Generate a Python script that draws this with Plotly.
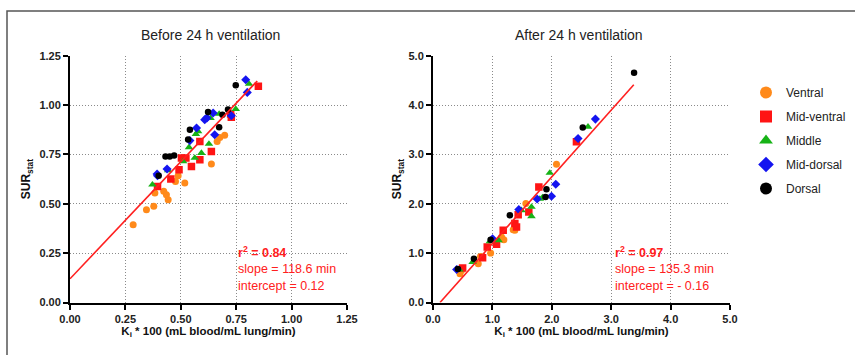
import plotly.graph_objects as go

W, H = 855, 355

series_names = ["Ventral", "Mid-ventral", "Middle", "Mid-dorsal", "Dorsal"]
series_colors = ["#FF8A1A", "#FF1414", "#16B316", "#1414F0", "#000000"]
series_symbols = ["circle", "square", "triangle-up", "diamond", "circle"]
series_sizes = [7, 7.5, 7.5, 7, 6.5]

# ---- Before 24 h ventilation ----
before_ventral_x = [0.285, 0.345, 0.378, 0.383, 0.423, 0.435, 0.443, 0.476, 0.518, 0.488, 0.638, 0.664, 0.676, 0.698]
before_ventral_y = [0.394, 0.470, 0.487, 0.555, 0.563, 0.546, 0.521, 0.613, 0.605, 0.642, 0.701, 0.816, 0.836, 0.847]

before_midventral_x = [0.395, 0.455, 0.492, 0.503, 0.523, 0.548, 0.586, 0.638, 0.586, 0.725, 0.728, 0.850]
before_midventral_y = [0.588, 0.625, 0.672, 0.732, 0.732, 0.689, 0.723, 0.765, 0.816, 0.955, 0.938, 1.095]

before_middle_x = [0.372, 0.443, 0.510, 0.537, 0.563, 0.593, 0.627, 0.568, 0.578, 0.634, 0.673, 0.748, 0.808]
before_middle_y = [0.597, 0.669, 0.715, 0.786, 0.732, 0.757, 0.803, 0.853, 0.867, 0.934, 0.955, 0.980, 1.107]

before_middorsal_x = [0.393, 0.395, 0.438, 0.541, 0.571, 0.608, 0.618, 0.646, 0.653, 0.793, 0.800, 0.728]
before_middorsal_y = [0.651, 0.642, 0.676, 0.820, 0.884, 0.926, 0.935, 0.960, 0.850, 1.128, 1.064, 0.946]

before_dorsal_x = [0.400, 0.431, 0.450, 0.470, 0.533, 0.541, 0.623, 0.673, 0.688, 0.713, 0.748]
before_dorsal_y = [0.642, 0.740, 0.740, 0.744, 0.825, 0.875, 0.965, 0.887, 0.951, 0.977, 1.100]

# ---- After 24 h ventilation ----
after_ventral_x = [0.454, 0.480, 0.762, 0.800, 0.970, 1.154, 1.193, 1.350, 1.378, 1.563, 2.079]
after_ventral_y = [0.582, 0.650, 0.786, 0.934, 1.001, 1.326, 1.273, 1.476, 1.462, 2.004, 2.800]

after_midventral_x = [0.499, 0.835, 0.913, 1.070, 1.182, 1.378, 1.406, 1.434, 1.613, 1.782, 2.415]
after_midventral_y = [0.697, 0.908, 1.123, 1.178, 1.462, 1.598, 1.529, 1.780, 1.834, 2.342, 3.255]

after_middle_x = [0.442, 0.667, 0.958, 1.104, 1.490, 1.658, 1.658, 1.798, 1.843, 1.966, 2.610]
after_middle_y = [0.664, 0.818, 1.239, 1.259, 1.868, 1.935, 1.746, 2.098, 2.126, 2.626, 3.560]

after_middorsal_x = [0.398, 1.003, 1.445, 1.753, 1.995, 2.067, 2.442, 2.734]
after_middorsal_y = [0.670, 1.293, 1.882, 2.098, 2.152, 2.396, 3.324, 3.716]

after_dorsal_x = [0.420, 0.689, 0.970, 1.294, 1.894, 1.910, 2.521, 3.385]
after_dorsal_y = [0.680, 0.887, 1.273, 1.766, 2.138, 2.294, 3.547, 4.656]

# regression results (slope in min, per Ki*100)
before_r2, before_slope, before_intercept = 0.84, 118.6, 0.12
after_r2, after_slope, after_intercept = 0.97, 135.3, -0.16
before_fit_x = [0.0, 0.845]
after_fit_x = [0.118, 3.38]

before_x = [before_ventral_x, before_midventral_x, before_middle_x, before_middorsal_x, before_dorsal_x]
before_y = [before_ventral_y, before_midventral_y, before_middle_y, before_middorsal_y, before_dorsal_y]
after_x = [after_ventral_x, after_midventral_x, after_middle_x, after_middorsal_x, after_dorsal_x]
after_y = [after_ventral_y, after_midventral_y, after_middle_y, after_middorsal_y, after_dorsal_y]

FONT = "Liberation Sans, Arial, sans-serif"
RED = "#FF2020"

fig = go.Figure()

for i, name in enumerate(series_names):
    fig.add_trace(go.Scatter(
        x=before_x[i], y=before_y[i], mode="markers", name=name,
        legendgroup=name, showlegend=True,
        marker=dict(color=series_colors[i], symbol=series_symbols[i], size=series_sizes[i], line=dict(width=0)),
        xaxis="x", yaxis="y"))
for i, name in enumerate(series_names):
    fig.add_trace(go.Scatter(
        x=after_x[i], y=after_y[i], mode="markers", name=name,
        legendgroup=name, showlegend=False,
        marker=dict(color=series_colors[i], symbol=series_symbols[i], size=series_sizes[i], line=dict(width=0)),
        xaxis="x2", yaxis="y2"))

fig.add_trace(go.Scatter(
    x=before_fit_x, y=[before_intercept + before_slope / 100 * v for v in before_fit_x],
    mode="lines", line=dict(color=RED, width=1.6), showlegend=False, xaxis="x", yaxis="y"))
fig.add_trace(go.Scatter(
    x=after_fit_x, y=[after_intercept + after_slope / 100 * v for v in after_fit_x],
    mode="lines", line=dict(color=RED, width=1.6), showlegend=False, xaxis="x2", yaxis="y2"))

def px(v):
    return v / W

def py(v):
    return 1 - v / H

ydom = [py(302.5), py(55.7)]
axis_common = dict(
    showline=True, linecolor="black", linewidth=2,
    ticks="outside", ticklen=5, tickwidth=1.5, tickcolor="black",
    showgrid=True, gridcolor="#8a8a8a", griddash="1px,2px", gridwidth=1,
    zeroline=False, automargin=False,
    tickfont=dict(family=FONT, size=11, color="#222222", weight="bold"),
)
xtitle = dict(text="K<sub>i</sub> * 100 (mL blood/mL lung/min)",
              font=dict(family=FONT, size=11.5, color="#111111", weight="bold"), standoff=3)
ytitle = dict(text="SUR<sub>stat</sub>",
              font=dict(family=FONT, size=12, color="#111111", weight="bold"), standoff=6)

fig.update_layout(
    width=W, height=H,
    margin=dict(l=0, r=0, t=0, b=0, autoexpand=False),
    paper_bgcolor="white", plot_bgcolor="white",
    font=dict(family=FONT),
    xaxis=dict(domain=[px(70), px(347)], range=[0, 1.25], dtick=0.25, tickformat=".2f",
               anchor="y", title=xtitle, **axis_common),
    yaxis=dict(domain=ydom, range=[0, 1.25], dtick=0.25, tickformat=".2f",
               anchor="x", title=ytitle, **axis_common),
    xaxis2=dict(domain=[px(433), px(730)], range=[0, 5], dtick=1, tickformat=".1f",
                anchor="y2", title=xtitle, **axis_common),
    yaxis2=dict(domain=ydom, range=[0, 5], dtick=1, tickformat=".1f",
                anchor="x2", title=dict(ytitle, standoff=4), **axis_common),
    legend=dict(x=px(746), y=py(78), xanchor="left", yanchor="top",
                font=dict(family=FONT, size=12, color="#222222"),
                bgcolor="rgba(0,0,0,0)", tracegroupgap=5, itemsizing="constant"),
)

ann = []
ann.append(dict(text="Before 24 h ventilation", x=px(210), y=py(35), xref="paper", yref="paper",
                xanchor="center", yanchor="middle",
                showarrow=False, font=dict(family=FONT, size=14, color="#222222")))
ann.append(dict(text="After 24 h ventilation", x=px(579), y=py(35), xref="paper", yref="paper",
                xanchor="center", yanchor="middle",
                showarrow=False, font=dict(family=FONT, size=14, color="#222222")))

def stats(x0, r2, slope, intercept):
    icpt = f"{intercept:.2f}" if intercept >= 0 else f"- {abs(intercept):.2f}"
    lines = [f"<b>r<sup>2</sup> = {r2:.2f}</b>", f"slope = {slope:.1f} min", f"intercept = {icpt}"]
    ys = [251.5, 268.5, 285.5]
    for t, yy in zip(lines, ys):
        ann.append(dict(text=t, x=px(x0), y=py(yy), xref="paper", yref="paper", xanchor="left",
                        yanchor="middle", showarrow=False, font=dict(family=FONT, size=12.5, color=RED)))

stats(236, before_r2, before_slope, before_intercept)
stats(613, after_r2, after_slope, after_intercept)
fig.update_layout(annotations=ann)

# outer frame (top and left edges visible)
fig.add_shape(type="path", xref="paper", yref="paper",
              path=f"M {px(7)} 0 L {px(7)} {py(11)} L 1 {py(11)}",
              line=dict(color="#555555", width=1.5))

fig.write_html("out.html", config={"displayModeBar": False},
               post_script="document.body.style.margin='0px';")
